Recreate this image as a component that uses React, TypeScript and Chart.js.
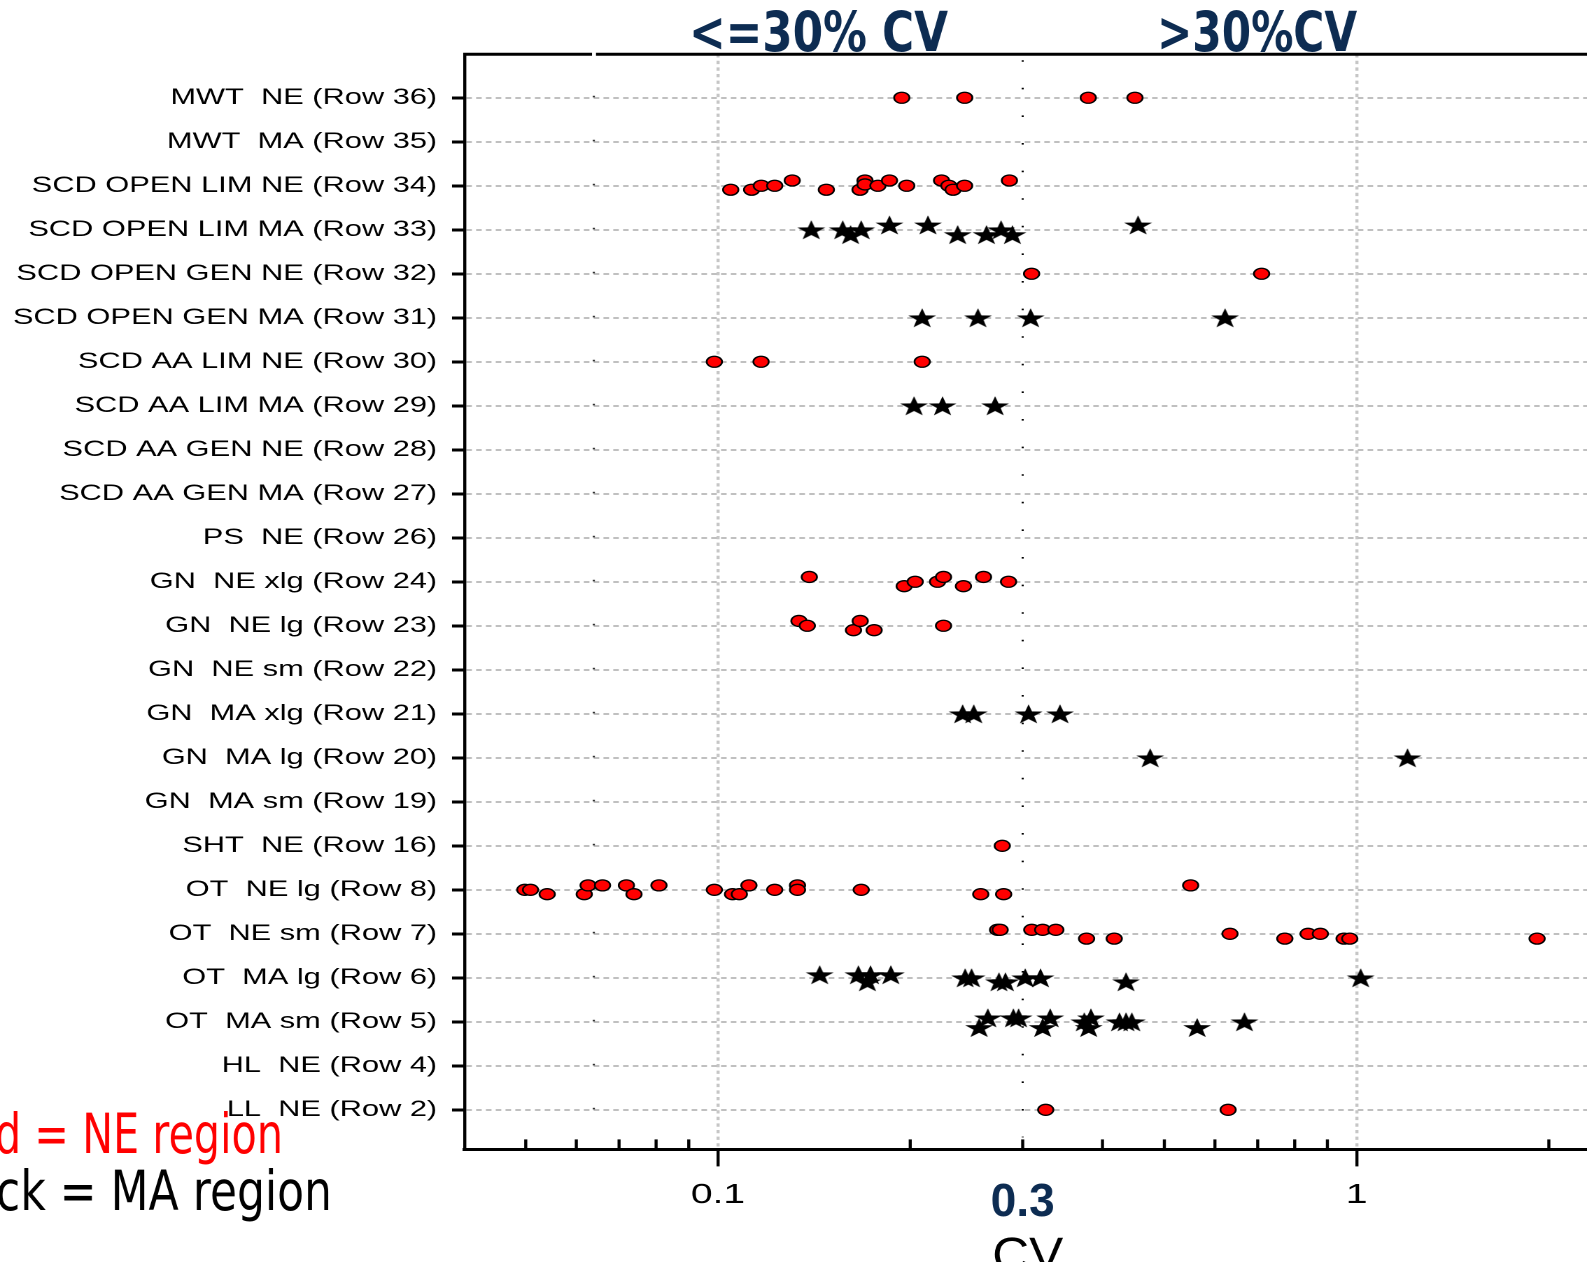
import React, { useEffect, useRef } from 'react';
import { Chart, registerables } from 'chart.js';

Chart.register(...registerables);

// horizontal stretch of the original picture
const CW = 1134;
const CH = 1262;
const S = 1587 / CW;

const categories = [
  'MWT  NE (Row 36)', 'MWT  MA (Row 35)', 'SCD OPEN LIM NE (Row 34)', 'SCD OPEN LIM MA (Row 33)',
  'SCD OPEN GEN NE (Row 32)', 'SCD OPEN GEN MA (Row 31)', 'SCD AA LIM NE (Row 30)', 'SCD AA LIM MA (Row 29)',
  'SCD AA GEN NE (Row 28)', 'SCD AA GEN MA (Row 27)', 'PS  NE (Row 26)', 'GN  NE xlg (Row 24)',
  'GN  NE lg (Row 23)', 'GN  NE sm (Row 22)', 'GN  MA xlg (Row 21)', 'GN  MA lg (Row 20)',
  'GN  MA sm (Row 19)', 'SHT  NE (Row 16)', 'OT  NE lg (Row 8)', 'OT  NE sm (Row 7)',
  'OT  MA lg (Row 6)', 'OT  MA sm (Row 5)', 'HL  NE (Row 4)', 'LL  NE (Row 2)',
];

const xTickValues = [0.1, 0.3, 1];
const xTickLabels = ['0.1', '', '1'];
const xMinorTicks = [0.05, 0.06, 0.07, 0.08, 0.09, 0.2, 0.3, 0.4, 0.5, 0.6, 0.7, 0.8, 0.9, 2];
const highlightTick = 0.3;
const highlightLabel = '0.3';
const xTitle = 'CV';

// [category index, CV, vertical jitter in rows]
const neValues: [number, number, number][] = [
  [0, 0.194, 0], [0, 0.2434, 0], [0, 0.38, 0], [0, 0.4497, 0],
  [2, 0.1047, 0.09], [2, 0.1129, 0.09], [2, 0.1169, 0], [2, 0.1227, 0], [2, 0.1307, -0.12],
  [2, 0.1478, 0.09], [2, 0.1669, 0.09], [2, 0.1699, -0.12], [2, 0.1699, -0.03], [2, 0.178, 0],
  [2, 0.1856, -0.12], [2, 0.1975, 0], [2, 0.2239, -0.12], [2, 0.2299, 0], [2, 0.2334, 0.09],
  [2, 0.2433, 0], [2, 0.286, -0.12],
  [4, 0.3098, 0], [4, 0.71, 0],
  [6, 0.0987, 0], [6, 0.1168, 0], [6, 0.2088, 0],
  [11, 0.139, -0.11], [11, 0.1957, 0.1], [11, 0.2036, 0], [11, 0.2207, 0], [11, 0.2255, -0.11],
  [11, 0.2423, 0.1], [11, 0.2605, -0.11], [11, 0.2851, 0],
  [12, 0.1339, -0.11], [12, 0.138, 0], [12, 0.163, 0.1], [12, 0.167, -0.11], [12, 0.1756, 0.1], [12, 0.2255, 0],
  [17, 0.2787, 0],
  [18, 0.04984, 0], [18, 0.05087, 0], [18, 0.05402, 0.1], [18, 0.06174, 0.1], [18, 0.0626, -0.1],
  [18, 0.06595, -0.1], [18, 0.07188, -0.1], [18, 0.07387, 0.1], [18, 0.08083, -0.1], [18, 0.0987, 0],
  [18, 0.1054, 0.1], [18, 0.108, 0.1], [18, 0.1118, -0.1], [18, 0.1227, 0], [18, 0.1332, -0.1],
  [18, 0.1332, 0], [18, 0.1676, 0], [18, 0.2579, 0.1], [18, 0.2801, 0.1], [18, 0.5497, -0.1],
  [19, 0.274, -0.09], [19, 0.2766, -0.09], [19, 0.31, -0.09], [19, 0.3224, -0.09], [19, 0.3381, -0.09],
  [19, 0.3777, 0.11], [19, 0.4173, 0.11], [19, 0.6335, 0], [19, 0.772, 0.11], [19, 0.8395, 0],
  [19, 0.8775, 0], [19, 0.9559, 0.11], [19, 0.9756, 0.11], [19, 1.917, 0.11],
  [23, 0.326, 0], [23, 0.6292, 0],
];

const maValues: [number, number, number][] = [
  [3, 0.14, 0], [3, 0.1568, 0], [3, 0.1613, 0.11], [3, 0.1676, 0], [3, 0.1856, -0.11],
  [3, 0.2132, -0.11], [3, 0.2373, 0.11], [3, 0.2633, 0.11], [3, 0.2775, 0], [3, 0.2891, 0.11], [3, 0.4548, -0.11],
  [5, 0.2088, 0], [5, 0.2553, 0], [5, 0.3087, 0], [5, 0.6223, 0],
  [7, 0.2028, 0], [7, 0.2247, 0], [7, 0.2716, 0],
  [14, 0.2416, 0], [14, 0.2515, 0], [14, 0.3064, 0], [14, 0.3432, 0],
  [15, 0.4751, 0], [15, 1.2015, 0],
  [20, 0.1443, -0.07], [20, 0.1659, -0.07], [20, 0.1714, 0.09], [20, 0.1733, -0.07], [20, 0.1865, -0.07],
  [20, 0.2438, 0], [20, 0.2495, 0], [20, 0.2754, 0.09], [20, 0.2819, 0.09], [20, 0.3027, 0],
  [20, 0.3199, 0], [20, 0.4355, 0.09], [20, 1.0148, 0],
  [21, 0.2564, 0.13], [21, 0.2646, -0.09], [21, 0.2901, -0.09], [21, 0.2956, -0.09], [21, 0.3224, 0.13],
  [21, 0.3313, -0.09], [21, 0.3746, 0], [21, 0.3806, 0.13], [21, 0.3837, -0.09], [21, 0.4253, 0],
  [21, 0.4355, 0], [21, 0.4446, 0], [21, 0.5627, 0.13], [21, 0.6674, 0],
];

const NAVY = '#0d2c52';

function makeStar(): Promise<HTMLImageElement> {
  const size = 24;
  const R = 10.5;
  const c = document.createElement('canvas');
  c.width = size * 2;
  c.height = size * 2;
  const g = c.getContext('2d')!;
  g.scale(2, 2);
  const cx = size / 2;
  const cy = size / 2 + (R - R * Math.cos(Math.PI / 5)) / 2;
  const r = R * 0.4;
  g.beginPath();
  for (let i = 0; i < 10; i++) {
    const ang = -Math.PI / 2 + (i * Math.PI) / 5;
    const rr = i % 2 === 0 ? R : r;
    const px = cx + rr * Math.cos(ang);
    const py = cy + rr * Math.sin(ang);
    if (i === 0) g.moveTo(px, py);
    else g.lineTo(px, py);
  }
  g.closePath();
  g.fillStyle = '#000';
  g.fill();
  return new Promise((resolve) => {
    const img = new Image();
    img.onload = () => resolve(img);
    img.width = size;
    img.height = size;
    img.src = c.toDataURL();
  });
}

// draws text in page pixels, squeezed/stretched to a given width
function drawFit(
  ctx: CanvasRenderingContext2D, text: string, measured: string, anchorFull: number,
  align: CanvasTextAlign, baseline: number, widthFull: number, font: string, color: string,
) {
  ctx.save();
  ctx.font = font;
  const w = ctx.measureText(measured).width;
  const k = widthFull / S / w;
  ctx.translate(anchorFull / S, baseline);
  ctx.scale(k, 1);
  ctx.textAlign = align;
  ctx.textBaseline = 'alphabetic';
  ctx.fillStyle = color;
  ctx.fillText(text, 0, 0);
  ctx.restore();
}

const overlay = {
  id: 'overlay',
  beforeDatasetsDraw(chart: any) {
    const { ctx, chartArea: a } = chart;
    const x = chart.scales.x;
    const y = chart.scales.y;
    ctx.save();
    ctx.strokeStyle = '#000';
    ctx.lineWidth = 2.2;
    for (const v of xMinorTicks) {
      const px = x.getPixelForValue(v);
      ctx.beginPath();
      ctx.moveTo(px, a.bottom);
      ctx.lineTo(px, a.bottom - 10);
      ctx.stroke();
    }
    const p3 = x.getPixelForValue(highlightTick);
    ctx.setLineDash([1.6, 26]);
    ctx.lineWidth = 1.5;
    ctx.beginPath();
    ctx.moveTo(p3, a.top + 6);
    ctx.lineTo(p3, a.bottom - 12);
    ctx.stroke();
    ctx.setLineDash([]);
    const p6 = x.getPixelForValue(0.0639);
    ctx.fillStyle = '#333';
    categories.forEach((_, i) => {
      ctx.fillRect(p6 - 0.8, y.getPixelForValue(i) - 2, 1.6, 1.6);
    });
    ctx.restore();
  },
  afterDraw(chart: any) {
    const { ctx, chartArea: a } = chart;
    const x = chart.scales.x;
    ctx.save();
    ctx.strokeStyle = '#000';
    ctx.lineWidth = 3;
    ctx.beginPath();
    ctx.moveTo(a.left - 1, a.top);
    ctx.lineTo(a.right, a.top);
    ctx.stroke();
    ctx.fillStyle = '#fff';
    ctx.fillRect(592 / S, a.top - 3, 4 / S, 6);
    ctx.restore();

    // highlighted 0.3 tick label and axis title, centred on their scale positions
    const p3Full = x.getPixelForValue(highlightTick) * S;
    drawFit(ctx, highlightLabel, highlightLabel, p3Full, 'center', 1216, 64, 'bold 46px "Liberation Sans", Arial', NAVY);
    const midFull = ((a.left + a.right) / 2) * S;
    drawFit(ctx, xTitle, xTitle, midFull + 2, 'center', 1271, 71, '48px "Liberation Sans", Arial', '#000');

    drawFit(ctx, '<=30% CV', '<=30% CV', 689, 'left', 51, 259, 'bold 55px "DejaVu Sans"', NAVY);
    drawFit(ctx, '>30%CV', '>30%CV', 1157, 'left', 51, 200, 'bold 55px "DejaVu Sans"', NAVY);
    drawFit(ctx, 'Red = NE region', 'd = NE region', 283, 'right', 1153, 288, '55px "DejaVu Sans"', '#ff0000');
    drawFit(ctx, 'Black = MA region', 'ck = MA region', 332, 'right', 1210, 336, '55px "DejaVu Sans"', '#000');
  },
};

export default function App() {
  const ref = useRef<HTMLCanvasElement | null>(null);

  useEffect(() => {
    let chart: Chart | null = null;
    let cancelled = false;
    makeStar().then((star) => {
      if (cancelled || !ref.current) return;
      chart = new Chart(ref.current, {
        type: 'scatter',
        data: {
          datasets: [
            {
              label: 'MA region',
              data: maValues.map(([r, cv, dy]) => ({ x: cv, y: r + dy })),
              pointStyle: star as any,
              pointRadius: 11,
              backgroundColor: '#000',
              borderColor: '#000',
            },
            {
              label: 'NE region',
              data: neValues.map(([r, cv, dy]) => ({ x: cv, y: r + dy })),
              pointStyle: 'circle',
              pointRadius: 5.5,
              backgroundColor: '#ff0000',
              borderColor: '#000',
              borderWidth: 1.3,
            },
          ],
        },
        options: {
          responsive: false,
          animation: false,
          devicePixelRatio: 2,
          events: [],
          layout: { autoPadding: false, padding: { top: 54.2, left: 0, right: 0, bottom: 0 } },
          plugins: { legend: { display: false }, tooltip: { enabled: false } },
          scales: {
            x: {
              type: 'logarithmic',
              position: 'bottom',
              min: 0.04011,
              max: 2.295,
              afterBuildTicks: (s: any) => {
                s.ticks = xTickValues.map((v) => ({ value: v }));
              },
              afterFit: (s: any) => {
                s.height = 112.6;
                s.paddingLeft = 0;
                s.paddingRight = 0;
              },
              ticks: {
                autoSkip: false,
                maxRotation: 0,
                padding: 12,
                callback: (v: any) => {
                  const i = xTickValues.indexOf(Number(v));
                  return i >= 0 ? xTickLabels[i] : '';
                },
                font: { family: '"Liberation Sans", Arial', size: 28 },
                color: '#000',
              },
              grid: {
                color: (c: any) => (c.tick && c.tick.value === highlightTick ? 'rgba(0,0,0,0)' : '#c6c6c6'),
                lineWidth: 2.2,
                tickLength: 17,
                tickWidth: 2.2,
                tickColor: (c: any) => (c.tick && c.tick.value === highlightTick ? 'rgba(0,0,0,0)' : '#000'),
                tickBorderDash: [],
              },
              border: { color: '#000', width: 3, dash: [3.3, 3.3] },
            },
            y: {
              type: 'linear',
              min: -0.99,
              max: 23.9,
              reverse: true,
              afterBuildTicks: (s: any) => {
                s.ticks = categories.map((_, i) => ({ value: i }));
              },
              afterFit: (s: any) => {
                s.width = 464.6 / S;
              },
              ticks: {
                autoSkip: false,
                padding: 10.6,
                callback: (v: any) => categories[Number(v)] ?? '',
                font: { family: '"Liberation Sans", Arial', size: 22 },
                color: '#000',
              },
              grid: {
                color: '#c0c0c0',
                lineWidth: 2,
                tickLength: 9,
                tickWidth: 3,
                tickColor: '#000',
                tickBorderDash: [],
              },
              border: { color: '#000', width: 2.2, dash: [4, 3] },
            },
          },
        } as any,
        plugins: [overlay],
      });
    });
    return () => {
      cancelled = true;
      if (chart) chart.destroy();
    };
  }, []);

  return (
    <div
      style={{
        position: 'fixed', left: 0, top: 0, width: 1587, height: 1262,
        overflow: 'hidden', background: '#fff',
      }}
    >
      <canvas
        ref={ref}
        width={CW}
        height={CH}
        style={{ transform: `scaleX(${S})`, transformOrigin: '0 0' }}
      />
    </div>
  );
}
